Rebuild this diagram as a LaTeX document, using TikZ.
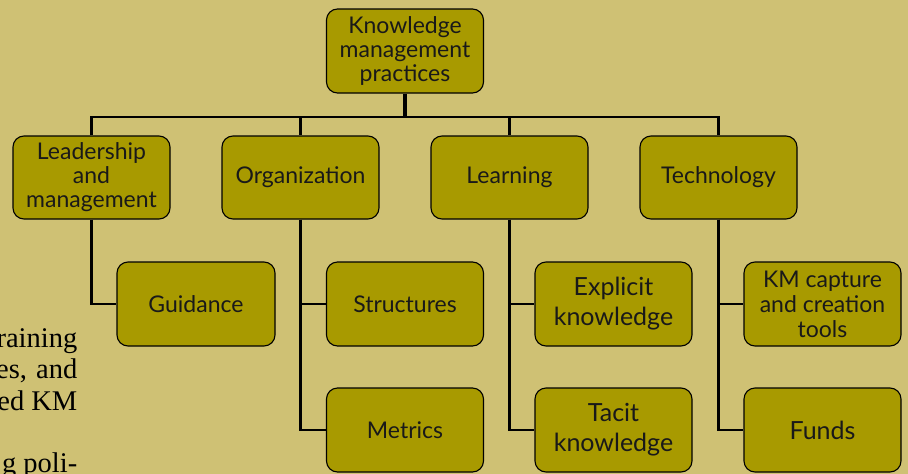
\documentclass[tikz,border=0pt]{standalone}
\usepackage{fontspec}
\newfontfamily\boxfont{Lato}
\newfontfamily\serifx{Liberation Serif}
\definecolor{bgc}{RGB}{207,193,116}
\definecolor{boxc}{RGB}{168,154,0}
\tikzset{
  kmbox/.style={draw=black, line width=1.1pt, fill=boxc, rounded corners=11pt,
    minimum width=157pt, minimum height=84pt, inner sep=0pt, align=center,
    font=\boxfont\fontsize{23}{24}\selectfont, text=black!90},
  bigtext/.style={font=\boxfont\fontsize{25}{30}\selectfont},
  conn/.style={draw=black, line width=2.4pt},
  stem/.style={draw=black, line width=3.6pt},
  frag/.style={anchor=base east, inner sep=0pt, font=\serifx\fontsize{28.5}{31}\selectfont}
}
\begin{document}
\begin{tikzpicture}[x=1pt,y=-1pt]
\path[use as bounding box, fill=bgc] (0,0) rectangle (908,474);
\clip (0,0) rectangle (908,474);
% left text fragments
\node[frag] (f1) at (77.5,347) {raining};
\node[frag] (f2) at (77.5,378) {es,\hspace{2pt} and};
\node[frag] (f3) at (77.5,410) {ed KM};
\node[frag] (f4) at (77.5,472) {g poli-};
% nodes
\node[kmbox] (root) at (405,51) {Knowledge\\management\\practices};
\node[kmbox, minimum height=83pt] (lead) at (91.5,177.5) {Leadership\\and\\management};
\node[kmbox, minimum height=83pt] (org) at (300.5,177.5) {Organization};
\node[kmbox, minimum height=83pt] (learn) at (509.5,177.5) {Learning};
\node[kmbox, minimum height=83pt] (tech) at (718.5,177.5) {Technology};
\node[kmbox, minimum width=158pt] (guid) at (196,304) {Guidance};
\node[kmbox] (struc) at (405,304) {Structures};
\node[kmbox] (metr) at (405,430) {Metrics};
\node[kmbox, bigtext] (expl) at (613.5,304) {Explicit\\knowledge};
\node[kmbox, bigtext] (tacit) at (613.5,430) {Tacit\\knowledge};
\node[kmbox, font=\boxfont\fontsize{23}{25}\selectfont] (kmcap) at (822.5,304) {KM capture\\and creation\\tools};
\node[kmbox, bigtext] (funds) at (822.5,430) {Funds};
% bus
\coordinate (bus) at (405,117);
\draw[stem] (root.south) -- (root.south |- bus);
\draw[conn, line join=miter] (lead.north) -- (lead.north |- bus) -- (tech.north |- bus) -- (tech.north);
\draw[conn] (org.north |- bus) -- (org.north);
\draw[conn] (learn.north |- bus) -- (learn.north);
% children
\draw[conn, line join=miter] (lead.south) |- (guid.west);
\draw[conn, line join=miter] (org.south) |- (struc.west);
\draw[conn, line join=miter] (org.south) |- (metr.west);
\draw[conn, line join=miter] (learn.south) |- (expl.west);
\draw[conn, line join=miter] (learn.south) |- (tacit.west);
\draw[conn, line join=miter] (tech.south) |- (kmcap.west);
\draw[conn, line join=miter] (tech.south) |- (funds.west);
\end{tikzpicture}
\end{document}
